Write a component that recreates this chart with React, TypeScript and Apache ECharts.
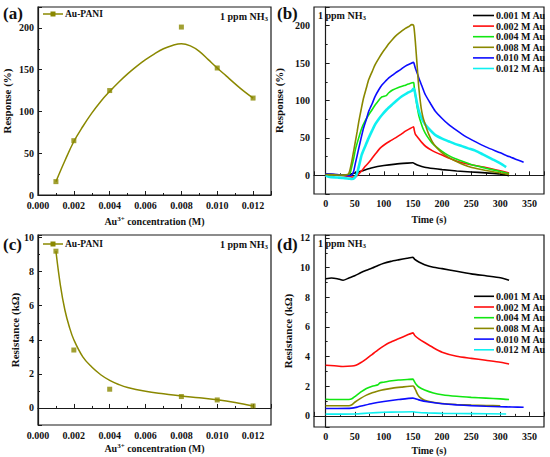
import React, { useEffect, useRef } from 'react';
import * as echarts from 'echarts';

const FONT = '"Liberation Serif", "Times New Roman", serif';
const OLIVE = '#8a8800';
const AXIS = '#1a1a1a';

// ---- panel (a) / (c): Au3+ concentration ----
const concentrations = [0.001, 0.002, 0.004, 0.008, 0.01, 0.012];
const responsePoints = [16, 65, 125, 201, 152, 116];
const resistancePoints = [9.2, 3.4, 1.1, 0.67, 0.47, 0.12];

const fitX = [0.001, 0.0015, 0.002, 0.0025, 0.003, 0.0035, 0.004, 0.0045, 0.005, 0.0055, 0.006, 0.0065, 0.007, 0.0075, 0.008, 0.0085, 0.009, 0.0095, 0.01, 0.0105, 0.011, 0.0115, 0.012];
const responseFit = [16, 41, 64, 82, 98, 112, 124, 135, 145, 154, 162, 169, 175, 179, 181, 178.5, 172, 162, 152, 142.5, 133, 124, 116];
const resistanceFitX = [0.001, 0.00125, 0.0015, 0.00175, 0.002, 0.0025, 0.003, 0.0035, 0.004, 0.0045, 0.005, 0.006, 0.007, 0.008, 0.009, 0.01, 0.011, 0.012];
const resistanceFit = [9.2, 7.2, 5.75, 4.75, 4.0, 3.0, 2.4, 1.95, 1.62, 1.38, 1.2, 0.98, 0.83, 0.7, 0.6, 0.48, 0.32, 0.12];

// ---- panel (b) / (d): time series ----
const seriesNames = ['0.001 M Au', '0.002 M Au', '0.004 M Au', '0.008 M Au', '0.010 M Au', '0.012 M Au'];
const seriesColors = ['#000000', '#ff0c0c', '#12e612', '#8a8800', '#0c0cff', '#0ff0f0'];

const resp001: number[][] = [[0, 1.5], [10, 1.2], [20, 0.8], [30, 0.3], [38, 0.5], [45, 2], [50, 3.2], [57, 4.5], [65, 6.5], [80, 10], [100, 13], [120, 15], [140, 16.3], [150, 16.8], [153, 15.5], [160, 13], [170, 10.8], [185, 9], [200, 7.6], [225, 5.8], [250, 4.5], [275, 3.2], [300, 1.8], [315, -0.5]];
const resp002: number[][] = [[0, 0.5], [10, 0.3], [20, 0], [30, -0.5], [40, -1.5], [48, -2.5], [53, -1.5], [57, 2], [62, 6], [68, 12], [74, 17], [80, 23], [86, 29], [91, 34], [96, 38], [102, 41.5], [110, 45.5], [120, 50], [130, 55], [137, 59], [145, 62.5], [151, 65], [152, 61], [154, 55], [158, 51], [165, 44], [172, 38.5], [183, 33], [200, 27], [223, 19.5], [250, 14], [275, 10.5], [300, 6], [315, 3]];
const resp004: number[][] = [[0, 1], [10, 0.8], [20, 0.5], [30, 0], [38, 0.5], [42, 3], [45, 12], [48, 22], [51, 34], [56, 48], [62, 63], [68, 73], [74, 81], [80, 88], [85, 94], [90, 99], [94, 103], [97, 105], [100, 105.5], [104, 106.5], [108, 110], [115, 114], [125, 117.5], [135, 120], [142, 122], [151, 124], [152, 119], [154, 108], [157, 92], [160, 80], [163, 72], [167, 63], [171, 56.5], [177, 49], [183, 43], [190, 38], [200, 32], [210, 27], [223, 22], [237, 18], [251, 14], [275, 9.5], [300, 5], [315, 2]];
const resp008: number[][] = [[0, 1], [10, 0.8], [20, 0.5], [30, 0.3], [38, 1], [41, 5], [45, 19], [48, 32], [51, 45], [54, 58], [57, 72], [61, 88], [65, 103], [70, 117], [74, 128], [80, 139], [85, 148], [91, 156], [97, 163.5], [103, 170], [108, 175.5], [114, 181], [120, 186], [126, 190], [131, 193], [137, 196.5], [143, 199], [148, 201.5], [151, 200.5], [152, 196], [154, 179], [157, 148], [160, 117], [164, 90], [167, 78], [171, 68], [177, 55], [183, 45], [190, 37.5], [200, 30], [211, 24], [223, 19], [237, 14], [251, 10.5], [275, 6.5], [300, 3], [315, 1]];
const resp010: number[][] = [[0, 2], [10, 1.5], [20, 1], [30, 0], [40, -0.5], [45, 0.5], [48, 5], [51, 16], [54, 26], [57, 36.5], [61, 50], [65, 63], [70, 75], [74, 85.5], [80, 96], [85, 105.5], [91, 114], [97, 121], [103, 126], [108, 130], [114, 133.5], [120, 137], [128, 141], [137, 146], [145, 149], [151, 151], [152, 149], [154, 143.5], [157, 137], [160, 130], [165, 120], [171, 108], [180, 96], [188, 86], [200, 76], [211, 68], [225, 60], [240, 52], [257, 45], [275, 38], [300, 30], [315, 25], [330, 20.5], [340, 17.5]];
const resp012: number[][] = [[0, 0], [5, -2], [10, -2.5], [20, -3], [30, -3.5], [40, -4.5], [45, -5], [50, -3], [54, 3], [58, 15], [62, 27.6], [68, 39], [74, 50], [80, 60], [85, 68], [91, 75], [97, 81], [105, 88], [114, 94.5], [122, 100], [131, 105.6], [140, 110], [148, 113], [151, 116], [153, 112], [155, 104], [157, 96], [160, 86], [165, 76], [171, 68], [180, 60], [188, 54], [200, 49], [211, 45.5], [222, 42], [234, 39], [245, 36], [257, 33], [270, 28], [285, 22], [300, 16], [310, 11]];

const res001: number[][] = [[0, 9.25], [10, 9.3], [20, 9.25], [30, 9.15], [40, 9.3], [50, 9.45], [60, 9.65], [70, 9.82], [80, 9.97], [90, 10.15], [100, 10.3], [112, 10.42], [125, 10.52], [140, 10.63], [150, 10.7], [153, 10.55], [160, 10.38], [170, 10.2], [185, 10.02], [200, 9.93], [225, 9.75], [250, 9.58], [275, 9.45], [300, 9.32], [315, 9.15]];
const res002: number[][] = [[0, 3.42], [15, 3.38], [30, 3.33], [45, 3.36], [52, 3.42], [60, 3.58], [70, 3.85], [80, 4.15], [90, 4.45], [100, 4.72], [110, 4.95], [125, 5.2], [140, 5.45], [150, 5.6], [153, 5.42], [160, 5.2], [170, 4.95], [185, 4.6], [200, 4.3], [225, 4.02], [250, 3.88], [275, 3.75], [300, 3.62], [315, 3.5]];
const res004: number[][] = [[0, 1.12], [20, 1.1], [40, 1.1], [45, 1.15], [50, 1.3], [60, 1.6], [70, 1.85], [80, 2.0], [90, 2.1], [93, 2.22], [97, 2.26], [100, 2.27], [110, 2.35], [125, 2.42], [140, 2.45], [150, 2.48], [152, 2.35], [155, 2.15], [160, 1.95], [170, 1.75], [185, 1.55], [200, 1.43], [225, 1.32], [250, 1.25], [275, 1.2], [300, 1.15], [315, 1.1]];
const res008: number[][] = [[0, 0.68], [20, 0.68], [40, 0.68], [45, 0.75], [50, 0.92], [60, 1.18], [70, 1.4], [80, 1.56], [90, 1.68], [100, 1.77], [115, 1.87], [130, 1.94], [150, 2.02], [152, 1.95], [155, 1.7], [158, 1.45], [162, 1.25], [170, 1.06], [180, 0.95], [200, 0.84], [225, 0.77], [250, 0.73], [275, 0.7], [300, 0.68]];
const res010: number[][] = [[0, 0.5], [20, 0.5], [45, 0.52], [55, 0.6], [65, 0.7], [80, 0.84], [100, 0.97], [125, 1.1], [150, 1.2], [153, 1.17], [160, 1.08], [175, 0.95], [200, 0.82], [225, 0.74], [250, 0.69], [275, 0.65], [300, 0.62], [320, 0.6], [340, 0.58]];
const res012: number[][] = [[0, 0.12], [25, 0.12], [50, 0.13], [75, 0.19], [100, 0.24], [125, 0.26], [150, 0.28], [155, 0.25], [175, 0.2], [200, 0.17], [250, 0.15], [310, 0.13]];

const responseSeries = [resp001, resp002, resp004, resp008, resp010, resp012];
const resistanceSeries = [res001, res002, res004, res008, res010, res012];

const isMultiple = (v: number, step: number) => Math.abs(v / step - Math.round(v / step)) < 1e-6;

const labelStyle = { fontFamily: FONT, fontWeight: 'bold' as const, fontSize: 10, color: '#111' };
const nameStyle = (size: number) => ({
  fontFamily: FONT,
  fontWeight: 'bold' as const,
  fontSize: size,
  color: '#111',
  rich: {
    n: { fontFamily: FONT, fontWeight: 'bold', fontSize: size, color: '#111' },
    p: { fontFamily: FONT, fontWeight: 'bold', fontSize: 7, color: '#111', padding: [0, 0, 6, 0] },
  },
});

function axis(gridIndex: number, min: number, max: number, step: number, fmt: (v: number) => string, extra: any) {
  return {
    type: 'value',
    gridIndex,
    min,
    max,
    minInterval: step,
    maxInterval: step,
    splitNumber: 5,
    axisLine: { show: true, lineStyle: { color: AXIS, width: 1.2 } },
    axisTick: { show: true, inside: true, length: 4, lineStyle: { color: AXIS, width: 1 } },
    minorTick: { show: true, splitNumber: 2, length: 2, lineStyle: { color: AXIS, width: 1 } },
    splitLine: { show: false },
    minorSplitLine: { show: false },
    axisLabel: {
      ...labelStyle,
      margin: 4,
      showMinLabel: true,
      showMaxLabel: true,
      formatter: (v: number) => (isMultiple(v, step) ? fmt(v) : ''),
    },
    nameLocation: 'middle',
    ...extra,
  };
}

const concFmt = (v: number) => v.toFixed(3);
const intFmt = (v: number) => String(Math.round(v));

function nh3Text(x: number, y: number, align: string) {
  return {
    type: 'text',
    x,
    y,
    style: {
      text: '{t|1 ppm NH}{s|3}',
      textAlign: align,
      textVerticalAlign: 'middle',
      rich: {
        t: { fontFamily: FONT, fontWeight: 'bold', fontSize: 10, fill: '#111' },
        s: { fontFamily: FONT, fontWeight: 'bold', fontSize: 7, fill: '#111', padding: [5, 0, 0, 0] },
      },
    },
  };
}

function panelLabel(x: number, y: number, t: string) {
  return {
    type: 'text',
    x,
    y,
    style: { text: t, font: `bold 17px ${FONT}`, fill: '#111', textAlign: 'left', textVerticalAlign: 'middle' },
  };
}

function pointLegend(y: number) {
  return [
    { type: 'line', shape: { x1: 43, y1: y, x2: 63, y2: y }, style: { stroke: OLIVE, lineWidth: 1.5 } },
    { type: 'rect', shape: { x: 50.5, y: y - 2.5, width: 5, height: 5 }, style: { fill: OLIVE } },
    {
      type: 'text',
      x: 65,
      y,
      style: { text: 'Au-PANI', font: `bold 9.5px ${FONT}`, fill: '#111', textAlign: 'left', textVerticalAlign: 'middle' },
    },
  ];
}

function seriesLegend(y0: number, gap: number, x1: number) {
  const out: any[] = [];
  seriesNames.forEach((name, i) => {
    const y = y0 + i * gap;
    out.push({ type: 'line', shape: { x1, y1: y, x2: 494, y2: y }, style: { stroke: seriesColors[i], lineWidth: 1.6 } });
    out.push({
      type: 'text',
      x: 496,
      y,
      style: { text: name, font: `bold 10px ${FONT}`, fill: '#111', textAlign: 'left', textVerticalAlign: 'middle' },
    });
  });
  return out;
}

export default function App() {
  const ref = useRef<HTMLDivElement>(null);
  useEffect(() => {
    if (!ref.current) return;
    const chart = echarts.init(ref.current, undefined, { renderer: 'svg' });
    const gridBox = { show: true, borderColor: AXIS, borderWidth: 1.2, backgroundColor: 'transparent' };
    const concName = '{n|Au}{p|3+}{n| concentration (M)}';
    const concLabel = { ...labelStyle, margin: 5.5, showMaxLabel: false, formatter: concFmt };
    const option: any = {
      animation: false,
      backgroundColor: '#ffffff',
      grid: [
        { left: 38, top: 7, width: 233, height: 188, ...gridBox },
        { left: 314, top: 7, width: 230, height: 187, ...gridBox },
        { left: 38, top: 235, width: 233, height: 190, ...gridBox },
        { left: 314, top: 235, width: 230, height: 192, ...gridBox },
      ],
      xAxis: [
        axis(0, 0, 0.013, 0.002, concFmt, { name: concName, nameGap: 20, nameTextStyle: nameStyle(10), axisLabel: concLabel }),
        axis(1, -20, 375, 50, intFmt, { name: 'Time (s)', nameGap: 20, nameTextStyle: nameStyle(10) }),
        axis(2, 0, 0.013, 0.002, concFmt, { name: concName, nameGap: 17, nameTextStyle: nameStyle(10), axisLabel: concLabel }),
        axis(3, -20, 375, 50, intFmt, { name: 'Time (s)', nameGap: 18, nameTextStyle: nameStyle(10) }),
      ],
      yAxis: [
        axis(0, 0, 225, 50, intFmt, { name: 'Response (%)', nameGap: 26, nameTextStyle: nameStyle(11) }),
        axis(1, -25, 225, 50, intFmt, { name: 'Response (%)', nameGap: 30, nameTextStyle: nameStyle(11) }),
        axis(2, -1, 10.15, 2, intFmt, { name: 'Resistance (kΩ)', nameGap: 16, nameTextStyle: nameStyle(11) }),
        axis(3, -0.75, 12.2, 2, intFmt, { name: 'Resistance (kΩ)', nameGap: 21, nameTextStyle: nameStyle(11) }),
      ],
      series: [
        {
          name: 'Au-PANI fit',
          type: 'line',
          xAxisIndex: 0,
          yAxisIndex: 0,
          data: fitX.map((x, i) => [x, responseFit[i]]),
          smooth: 0.4,
          showSymbol: false,
          symbol: 'none',
          lineStyle: { color: OLIVE, width: 1.5 },
          silent: true,
        },
        {
          name: 'Au-PANI',
          type: 'scatter',
          xAxisIndex: 0,
          yAxisIndex: 0,
          data: concentrations.map((x, i) => [x, responsePoints[i]]),
          symbol: 'rect',
          symbolSize: 5,
          itemStyle: { color: OLIVE },
        },
        {
          name: 'Au-PANI fit R',
          type: 'line',
          xAxisIndex: 2,
          yAxisIndex: 2,
          data: resistanceFitX.map((x, i) => [x, resistanceFit[i]]),
          smooth: 0.4,
          showSymbol: false,
          symbol: 'none',
          lineStyle: { color: OLIVE, width: 1.5 },
          silent: true,
        },
        {
          name: 'Au-PANI R',
          type: 'scatter',
          xAxisIndex: 2,
          yAxisIndex: 2,
          data: concentrations.map((x, i) => [x, resistancePoints[i]]),
          symbol: 'rect',
          symbolSize: 5,
          itemStyle: { color: OLIVE },
        },
        ...responseSeries.map((d, i) => ({
          name: seriesNames[i],
          type: 'line',
          xAxisIndex: 1,
          yAxisIndex: 1,
          data: d,
          smooth: 0.2,
          showSymbol: false,
          symbol: 'none',
          lineStyle: { color: seriesColors[i], width: i === 5 ? 2.6 : 1.6 },
          z: i === 3 ? 3 : 2,
        })),
        ...resistanceSeries.map((d, i) => ({
          name: seriesNames[i] + ' R',
          type: 'line',
          xAxisIndex: 3,
          yAxisIndex: 3,
          data: d,
          smooth: 0.2,
          showSymbol: false,
          symbol: 'none',
          lineStyle: { color: seriesColors[i], width: 1.6 },
        })),
      ],
      graphic: [
        panelLabel(3, 13.5, '(a)'),
        panelLabel(277, 13.5, '(b)'),
        panelLabel(3, 244, '(c)'),
        panelLabel(277, 244, '(d)'),
        nh3Text(268, 16, 'right'),
        nh3Text(318, 15, 'left'),
        nh3Text(268, 244.5, 'right'),
        nh3Text(318, 243, 'left'),
        ...pointLegend(14),
        ...pointLegend(244),
        ...seriesLegend(15.5, 10.6, 473),
        ...seriesLegend(296.3, 10.7, 474),
      ],
    };
    chart.setOption(option);
    return () => chart.dispose();
  }, []);
  return <div ref={ref} style={{ position: 'absolute', left: 0, top: 0, width: 550, height: 457 }} />;
}
